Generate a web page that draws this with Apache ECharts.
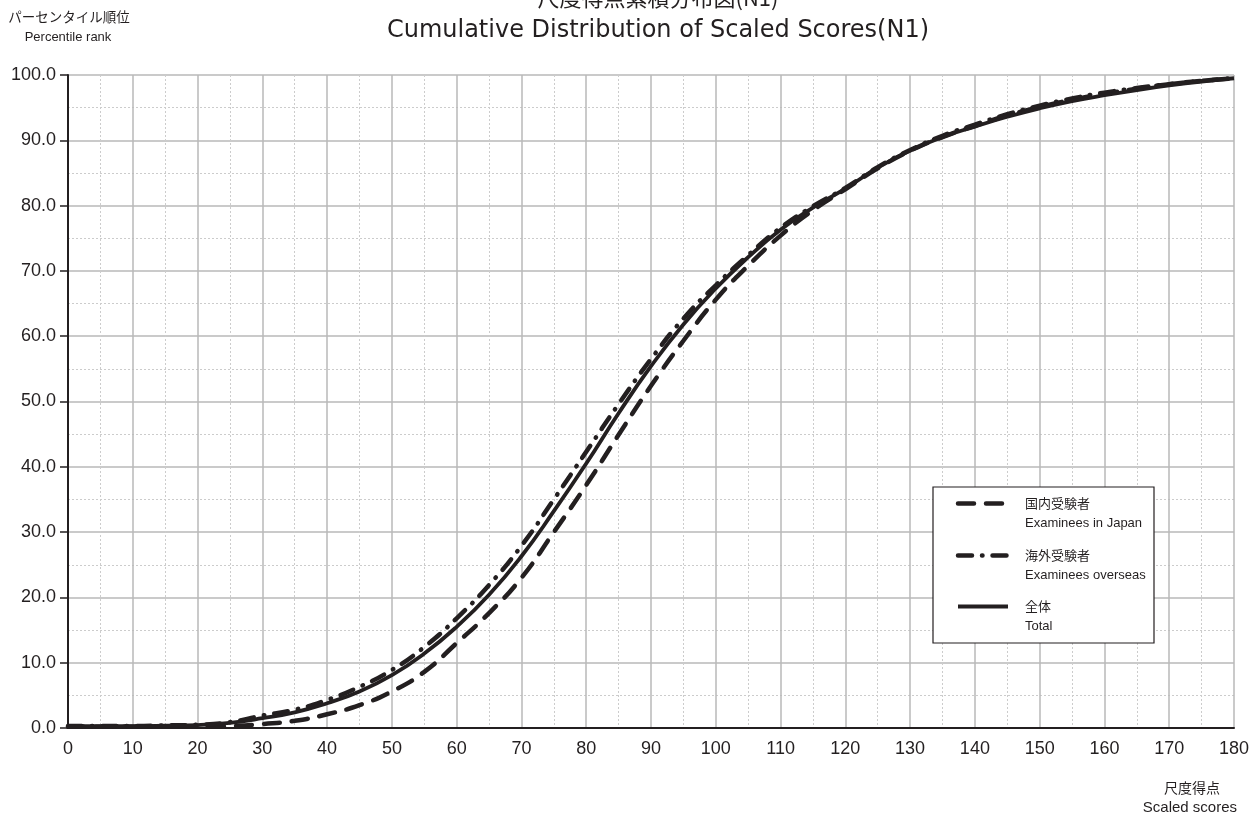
<!DOCTYPE html>
<html>
<head>
<meta charset="utf-8">
<script src="https://cdn.jsdelivr.net/npm/echarts@6/dist/echarts.min.js"></script>
<style>
html,body{margin:0;padding:0;background:#fff;}
#c{width:1260px;height:819px;}
</style>
</head>
<body>
<div id="c"></div>
<script>
const scores = [0,5,10,15,20,25,30,35,40,45,50,55,60,65,70,75,80,85,90,95,100,105,110,115,120,125,130,135,140,145,150,155,160,165,170,175,180];
const japan = [0.2,0.2,0.2,0.2,0.2,0.3,0.6,1.1,2.1,3.5,5.6,8.6,13.0,17.6,23.0,30.0,37.2,44.9,52.4,59.3,65.6,70.8,75.4,79.3,82.5,85.7,88.4,90.5,92.2,93.8,95.1,96.2,97.1,97.9,98.6,99.1,99.5];
const overseas = [0.3,0.3,0.3,0.4,0.5,0.9,1.9,2.8,4.3,6.3,8.9,12.4,16.8,21.9,27.9,35.0,42.3,49.6,56.5,62.7,67.8,72.4,76.6,79.9,82.7,85.9,88.5,90.7,92.4,94.0,95.3,96.4,97.3,98.0,98.6,99.1,99.5];
const total = [0.3,0.3,0.3,0.35,0.45,0.8,1.5,2.4,3.8,5.6,8.1,11.4,15.5,20.4,26.3,33.2,40.5,48.2,55.4,61.8,67.3,72.1,76.3,79.7,82.6,85.8,88.4,90.5,92.1,93.6,94.9,96.0,96.9,97.7,98.4,99.0,99.5];
const seriesNamesJa = ['国内受験者','海外受験者','全体'];
const seriesNamesEn = ['Examinees in Japan','Examinees overseas','Total'];
const titleJa = '尺度得点累積分布図(N1)';
const titleEn = 'Cumulative Distribution of Scaled Scores(N1)';
const yNameJa = 'パーセンタイル順位', yNameEn = 'Percentile rank';
const xNameJa = '尺度得点', xNameEn = 'Scaled scores';

const LAT = '"Liberation Sans", Arial, sans-serif';
const DJ = '"DejaVu Sans", sans-serif';
const JP = '"Noto Sans CJK JP", sans-serif';
const INK = '#231f20';
const pairs = arr => scores.map((s,i)=>[s,arr[i]]);

const dashJapan = [16,12];
const dashOverseas = [14,10,0.5,10];

const chart = echarts.init(document.getElementById('c'));
function legendItem(i, y, dash){
  const ls = {stroke:INK, lineWidth: dash ? 4.5 : 4, lineCap: dash ? 'round':'butt'};
  if (dash) ls.lineDash = dash;
  return [
    {type:'line', z:20, shape:{x1:958,y1:y,x2:1008,y2:y}, style:ls},
    {type:'text', z:20, x:1025, y:y, style:{text:seriesNamesJa[i], font:'13px '+JP, fill:INK, verticalAlign:'middle'}},
    {type:'text', z:20, x:1025, y:y+19.5, style:{text:seriesNamesEn[i], font:'13px '+LAT, fill:INK, verticalAlign:'middle'}}
  ];
}
chart.setOption({
  animation:false,
  grid:{left:68, right:26, top:75, bottom:91},
  xAxis:{type:'value', min:0, max:180, interval:10,
    axisLine:{lineStyle:{color:INK, width:2}},
    axisTick:{show:false},
    axisLabel:{color:INK, fontSize:18, fontFamily:LAT, margin:12},
    splitLine:{show:true, lineStyle:{color:'#b8b8b8', width:1.5}},
    minorTick:{show:true, splitNumber:2, length:0},
    minorSplitLine:{show:true, lineStyle:{color:'#cccccc', width:1, type:[2,2]}}
  },
  yAxis:{type:'value', min:0, max:100, interval:10,
    axisLine:{show:true, lineStyle:{color:INK, width:2}},
    axisTick:{show:true, length:8, lineStyle:{color:INK, width:1.5}},
    axisLabel:{color:INK, fontSize:18, fontFamily:LAT, margin:12, formatter:v=>v.toFixed(1)},
    splitLine:{show:true, lineStyle:{color:'#b8b8b8', width:1.5}},
    minorTick:{show:true, splitNumber:2, length:0},
    minorSplitLine:{show:true, lineStyle:{color:'#cccccc', width:1, type:[2,2]}}
  },
  series:[
    {name:seriesNamesJa[0], type:'line', data:pairs(japan), smooth:0.5, showSymbol:false, z:3,
      lineStyle:{color:INK, width:4.5, type:dashJapan, cap:'round'}},
    {name:seriesNamesJa[1], type:'line', data:pairs(overseas), smooth:0.5, showSymbol:false, z:4,
      lineStyle:{color:INK, width:4.5, type:dashOverseas, cap:'round'}},
    {name:seriesNamesJa[2], type:'line', data:pairs(total), smooth:0.5, showSymbol:false, z:5,
      lineStyle:{color:INK, width:3.8}}
  ],
  graphic:[
    {type:'text', z:20, x:658, y:-2, style:{text:titleJa, font:'22px '+JP, fill:INK, align:'center', verticalAlign:'middle'}},
    {type:'text', z:20, x:658, y:31, style:{text:titleEn, font:'24px '+DJ, fill:INK, align:'center', verticalAlign:'middle'}},
    {type:'text', z:20, x:69, y:17, style:{text:yNameJa, font:'13.5px '+JP, fill:INK, align:'center', verticalAlign:'middle'}},
    {type:'text', z:20, x:68, y:37, style:{text:yNameEn, font:'13px '+LAT, fill:INK, align:'center', verticalAlign:'middle'}},
    {type:'text', z:20, x:1192, y:788, style:{text:xNameJa, font:'14px '+JP, fill:INK, align:'center', verticalAlign:'middle'}},
    {type:'text', z:20, x:1237, y:808, style:{text:xNameEn, font:'15px '+LAT, fill:INK, align:'right', verticalAlign:'middle'}},
    {type:'rect', z:19, shape:{x:933, y:487, width:221, height:156}, style:{fill:'#fff', stroke:INK, lineWidth:1.2}}
  ].concat(legendItem(0,503.5,dashJapan), legendItem(1,555.5,dashOverseas), legendItem(2,606.5,null))
});
</script>
</body>
</html>
